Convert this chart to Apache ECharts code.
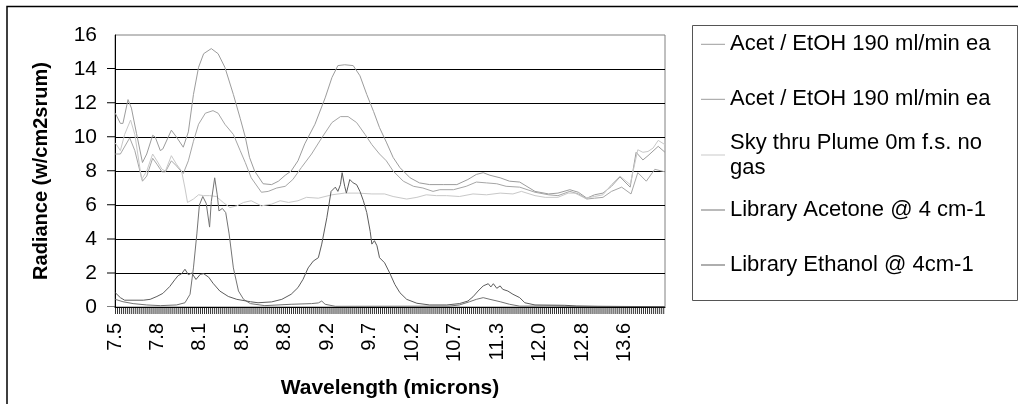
<!DOCTYPE html>
<html>
<head>
<meta charset="utf-8">
<title>Radiance vs wavelength</title>
<script src="https://cdn.jsdelivr.net/npm/echarts@6/dist/echarts.min.js"></script>
<style>
  html, body { margin: 0; padding: 0; background: #fff; }
  #chart { width: 1018px; height: 404px; }
</style>
</head>
<body>
<div id="chart"></div>
<script>
// x is wavenumber (cm-1); labels show wavelength in microns
const WN0 = 10000 / 7.5;
const WN_END = 686;
const LABEL_STEP = 50;
const TICKS_PER_LABEL = 21;
const tickLabels = ['7.5', '7.8', '8.1', '8.5', '8.8', '9.2', '9.7', '10.2', '10.7', '11.3', '12.0', '12.8', '13.6'];

const seriesNames = [
  'Acet / EtOH 190 ml/min ea',
  'Acet / EtOH 190 ml/min ea',
  'Sky thru Plume 0m f.s. no gas',
  'Library Acetone @ 4 cm-1',
  'Library Ethanol @ 4cm-1'
];
const legendLabels = [
  'Acet / EtOH 190 ml/min ea',
  'Acet / EtOH 190 ml/min ea',
  'Sky thru Plume 0m f.s. no\ngas',
  'Library Acetone @ 4 cm-1',
  'Library Ethanol @ 4cm-1'
];
const seriesColors = ['#9c9c9c', '#a6a6a6', '#c8c8c8', '#747474', '#5c5c5c'];

// [wavenumber, radiance]
const acetEtohA = [
  [1333, 11.4], [1327, 10.8], [1324, 10.8], [1318, 12.2], [1314, 11.7], [1308, 10.2], [1301, 8.5],
  [1296, 9.0], [1289, 10.1], [1286, 10.0], [1280, 9.2], [1277, 9.3], [1267, 10.4], [1261, 10.0],
  [1253, 9.4], [1247, 10.3], [1241, 12.5], [1235, 14.1], [1229, 14.9], [1220, 15.2], [1212, 14.9],
  [1204, 14.1], [1194, 12.5], [1186, 11.1], [1180, 10.0], [1175, 8.8], [1169, 8.0], [1159, 7.25],
  [1149, 7.2], [1141, 7.4], [1133, 7.75], [1126, 8.0], [1118, 8.6], [1110, 9.6], [1098, 10.75],
  [1086, 12.3], [1078, 13.5], [1071, 14.2], [1063, 14.25], [1053, 14.2], [1045, 13.6], [1037, 12.5],
  [1029, 11.5], [1022, 10.55], [1014, 9.7], [1006, 8.8], [998, 8.2], [986, 7.6], [975, 7.3],
  [963, 7.2], [947, 7.2], [931, 7.2], [918, 7.5], [908, 7.8], [900, 7.9], [892, 7.75], [880, 7.6],
  [869, 7.4], [857, 7.35], [839, 6.8], [823, 6.65], [812, 6.7], [798, 6.9], [788, 6.75], [778, 6.4],
  [769, 6.6], [759, 6.7], [749, 7.1], [739, 7.65], [727, 7.05], [720, 9.1], [712, 8.65], [706, 8.9],
  [694, 9.45], [686, 9.1]
];
const acetEtohB = [
  [1333, 9.0], [1327, 9.0], [1316, 9.95], [1310, 9.2], [1301, 7.4], [1296, 7.7], [1289, 8.75],
  [1284, 8.4], [1278, 7.95], [1274, 7.95], [1267, 8.6], [1261, 8.3], [1253, 7.85], [1247, 8.6],
  [1241, 9.75], [1235, 10.75], [1227, 11.4], [1218, 11.55], [1212, 11.4], [1204, 10.75], [1194, 10.15],
  [1186, 9.2], [1180, 8.5], [1173, 7.6], [1161, 6.75], [1153, 6.8], [1143, 7.0], [1133, 7.1],
  [1124, 7.5], [1114, 8.2], [1102, 9.0], [1090, 9.95], [1078, 10.85], [1068, 11.2], [1059, 11.2],
  [1049, 10.85], [1039, 10.15], [1031, 9.55], [1022, 9.0], [1014, 8.6], [1006, 8.0], [994, 7.4],
  [982, 7.1], [971, 7.0], [959, 6.8], [951, 6.9], [935, 6.9], [920, 7.1], [908, 7.35], [896, 7.3],
  [884, 7.25], [873, 7.1], [857, 7.05], [839, 6.75], [823, 6.6], [812, 6.55], [798, 6.8], [788, 6.65],
  [778, 6.35], [769, 6.4], [759, 6.45], [749, 6.8], [737, 7.05], [726, 6.65], [718, 7.9], [708, 7.4],
  [698, 8.1], [686, 7.95]
];
const skyNoGas = [
  [1333, 9.65], [1327, 9.2], [1322, 10.15], [1315, 11.0], [1310, 10.15], [1302, 7.5], [1296, 8.0],
  [1289, 9.0], [1284, 8.6], [1278, 8.1], [1274, 8.0], [1267, 8.9], [1261, 8.4], [1255, 8.0],
  [1251, 7.0], [1248, 6.15], [1241, 6.35], [1235, 6.6], [1229, 6.55], [1222, 6.55], [1214, 6.5],
  [1206, 6.15], [1198, 5.85], [1190, 5.95], [1182, 6.15], [1173, 6.25], [1161, 5.95], [1149, 6.05],
  [1139, 6.25], [1129, 6.15], [1118, 6.25], [1108, 6.45], [1094, 6.4], [1078, 6.6], [1063, 6.7],
  [1047, 6.7], [1031, 6.65], [1016, 6.65], [1006, 6.5], [990, 6.35], [978, 6.45], [967, 6.6],
  [955, 6.55], [943, 6.55], [928, 6.5], [912, 6.65], [896, 6.6], [880, 6.7], [865, 6.65], [855, 6.8],
  [839, 6.55], [827, 6.45], [812, 6.45], [800, 6.7], [792, 6.7], [780, 6.4], [769, 6.5], [759, 6.6],
  [749, 7.2], [739, 7.7], [727, 7.2], [718, 9.25], [712, 9.1], [706, 9.15], [700, 9.35], [694, 9.8],
  [686, 9.55]
];
const libAcetone = [
  [1333, 0.45], [1324, 0.31], [1312, 0.2], [1296, 0.12], [1280, 0.08], [1261, 0.12], [1251, 0.25],
  [1245, 0.75], [1241, 2.3], [1237, 4.3], [1234, 6.0], [1230, 6.5], [1226, 6.1], [1222, 4.7],
  [1220, 6.2], [1216, 7.6], [1213, 6.6], [1211, 5.65], [1207, 5.8], [1203, 5.55], [1199, 4.3],
  [1194, 2.3], [1188, 0.94], [1182, 0.45], [1174, 0.2], [1157, 0.08], [1126, 0.16], [1102, 0.2],
  [1094, 0.24], [1090, 0.35], [1086, 0.16], [1074, 0.04], [940, 0.05], [928, 0.12], [916, 0.31],
  [908, 0.45], [900, 0.55], [892, 0.45], [880, 0.31], [869, 0.16], [857, 0.05], [820, 0.06],
  [800, 0.04], [686, 0.02]
];
const libEthanol = [
  [1333, 0.84], [1327, 0.55], [1322, 0.4], [1300, 0.4], [1292, 0.45], [1284, 0.62], [1277, 0.8],
  [1269, 1.2], [1263, 1.6], [1259, 1.85], [1255, 1.95], [1251, 2.22], [1247, 1.9], [1243, 2.0],
  [1238, 1.62], [1233, 1.92], [1229, 1.96], [1223, 1.75], [1218, 1.4], [1210, 0.94], [1200, 0.62],
  [1190, 0.45], [1174, 0.31], [1165, 0.25], [1149, 0.3], [1137, 0.45], [1126, 0.75], [1118, 1.14],
  [1112, 1.63], [1106, 2.3], [1100, 2.7], [1094, 2.9], [1090, 3.7], [1084, 5.25], [1079, 6.8],
  [1074, 7.05], [1071, 6.8], [1068, 7.2], [1066, 7.9], [1063, 7.1], [1061, 6.7], [1057, 7.5],
  [1053, 7.3], [1049, 7.2], [1045, 6.8], [1041, 6.25], [1037, 5.55], [1033, 4.45], [1031, 3.7],
  [1028, 3.9], [1025, 3.6], [1022, 2.9], [1016, 2.6], [1010, 2.0], [1004, 1.33], [998, 0.84],
  [990, 0.45], [978, 0.22], [963, 0.12], [943, 0.12], [928, 0.2], [918, 0.35], [912, 0.6],
  [906, 0.94], [900, 1.24], [894, 1.37], [891, 1.18], [888, 1.37], [884, 1.1], [880, 1.24],
  [877, 1.04], [871, 0.94], [865, 0.75], [857, 0.55], [851, 0.25], [839, 0.12], [804, 0.1],
  [790, 0.06], [765, 0.04], [686, 0.02]
];
const seriesData = [acetEtohA, acetEtohB, skyNoGas, libAcetone, libEthanol];

const FONT = 'Arial, "Liberation Sans", sans-serif';

const plot = { left: 115, right: 353, top: 35, bottom: 96.5 };
const plotWidth = 1018 - plot.left - plot.right;
const plotHeight = 404 - plot.top - plot.bottom;

// one label every 50 cm-1
const labelValues = tickLabels.map((_, i) => WN0 - i * LABEL_STEP);
// Excel draws one tick per data point; drawn as a dashed band so it stays crisp
const xTickPitch = plotWidth / ((WN0 - WN_END) / LABEL_STEP * TICKS_PER_LABEL);
const yTickPitch = plotHeight / 8;

// legend: one block per entry so the wrapped entry keeps the same spacing
const legendTops = [31.8, 86.8, 117.5, 197.5, 252.5];
const legends = seriesNames.map((name, i) => ({
  data: [name],
  orient: 'vertical',
  left: 701,
  top: legendTops[i],
  padding: 0,
  icon: 'rect',
  itemWidth: 24,
  itemHeight: 1,
  selectedMode: false,
  formatter: () => legendLabels[i],
  textStyle: {
    fontFamily: FONT,
    fontSize: 22,
    lineHeight: 25,
    color: '#000',
    padding: i === 2 ? [25, 0, 0, 0] : 0
  }
}));

const chart = echarts.init(document.getElementById('chart'));

const option = {
  animation: false,
  backgroundColor: '#fff',
  grid: { ...plot, show: true, borderColor: '#808080', borderWidth: 1 },
  legend: legends,
  graphic: [
    {
      type: 'polyline',
      silent: true,
      shape: { points: [[7, 404], [7, 6.5], [1018, 6.5]] },
      style: { fill: null, stroke: '#000', lineWidth: 1.5 }
    },
    {
      type: 'rect',
      silent: true,
      z: -1,
      shape: { x: 692.5, y: 25.5, width: 325, height: 275 },
      style: { fill: null, stroke: '#555', lineWidth: 1 }
    }
  ],
  xAxis: [
    {
      type: 'value',
      position: 'bottom',
      inverse: true,
      min: WN_END,
      max: WN0,
      name: 'Wavelength (microns)',
      nameLocation: 'middle',
      nameGap: 71,
      nameTextStyle: { fontFamily: FONT, fontSize: 21, fontWeight: 'bold', color: '#000' },
      axisLine: { show: true, onZero: false, lineStyle: { color: '#000', width: 1 } },
      axisTick: { show: false },
      axisLabel: {
        customValues: labelValues,
        formatter: (v) => {
          const i = Math.round((WN0 - v) / LABEL_STEP);
          return tickLabels[i] || '';
        },
        rotate: 90,
        margin: 16,
        fontFamily: FONT,
        fontSize: 20,
        color: '#000'
      },
      splitLine: { show: false }
    },
    {
      // tick band under the axis
      type: 'value',
      position: 'bottom',
      offset: 3.5,
      min: 0,
      max: 1,
      axisLine: {
        show: true,
        onZero: false,
        lineStyle: { color: '#333', width: 6, cap: 'butt', type: [1, xTickPitch - 1] }
      },
      axisTick: { show: false },
      axisLabel: { show: false },
      splitLine: { show: false }
    }
  ],
  yAxis: [
    {
      type: 'value',
      position: 'left',
      min: 0,
      max: 16,
      interval: 2,
      name: 'Radiance (w/cm2srum)',
      nameLocation: 'middle',
      nameGap: 64,
      nameTextStyle: { fontFamily: FONT, fontSize: 20, fontWeight: 'bold', color: '#000' },
      axisLine: { show: true, lineStyle: { color: '#000', width: 1 } },
      axisTick: { show: false },
      axisLabel: { margin: 18, fontFamily: FONT, fontSize: 21, color: '#000' },
      splitLine: { show: true, showMaxLine: false, lineStyle: { color: '#000', width: 1 } }
    },
    {
      // tick stubs left of the axis, one per gridline
      type: 'value',
      position: 'left',
      offset: 4,
      min: 0,
      max: 1,
      axisLine: {
        show: true,
        onZero: false,
        lineStyle: { color: '#000', width: 8, cap: 'butt', type: [1, yTickPitch - 1], dashOffset: 0.5 }
      },
      axisTick: { show: false },
      axisLabel: { show: false },
      splitLine: { show: false }
    }
  ],
  series: seriesNames.map((name, i) => ({
    name,
    type: 'line',
    xAxisIndex: 0,
    yAxisIndex: 0,
    data: seriesData[i],
    symbol: 'none',
    color: seriesColors[i],
    lineStyle: { width: 1, color: seriesColors[i] }
  }))
};

chart.setOption(option);
</script>
</body>
</html>
